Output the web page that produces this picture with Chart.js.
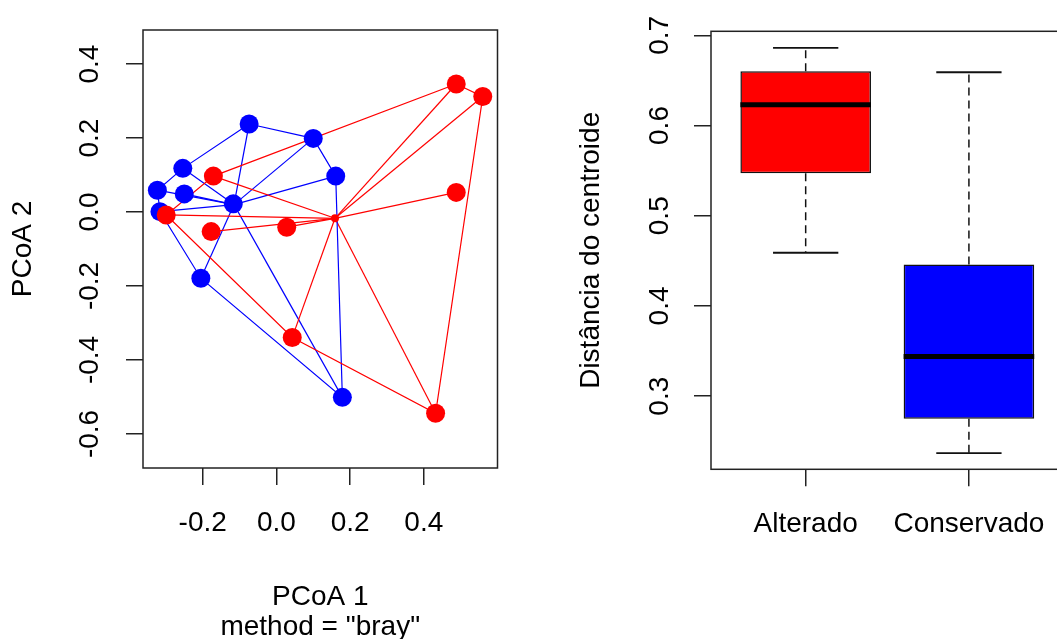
<!DOCTYPE html>
<html>
<head>
<meta charset="utf-8">
<script src="https://cdn.jsdelivr.net/npm/chart.js"></script>
<style>
  body { margin:0; background:#fff; overflow:hidden; width:1057px; height:639px; position:relative; }
  #left { position:absolute; left:0; top:0; }
  #right { position:absolute; left:530px; top:0; }
</style>
</head>
<body>
<canvas id="left" width="530" height="639"></canvas>
<canvas id="right" width="540" height="639"></canvas>
<script>
// PCoA scores, group Alterado (red)
var altX = [0.488, 0.560, 0.488, -0.171, -0.299, -0.177, 0.028, 0.043, 0.432];
var altY = [0.346, 0.312, 0.053, 0.097, -0.008, -0.053, -0.041, -0.339, -0.544];
var altHull = [0, 1, 8, 7, 4, 3];
var altCentroid = [0.159, -0.017];

// group Conservado (blue)
var conX = [-0.074, 0.100, 0.161, -0.254, -0.323, -0.250, -0.316, -0.205, 0.179, -0.117];
var conY = [0.238, 0.199, 0.097, 0.118, 0.059, 0.049, 0.001, -0.179, -0.501, 0.022];
var conHull = [0, 1, 2, 8, 7, 6, 4, 3];
var conCentroid = [-0.115, 0.020];

var pcoaXTicks = [-0.2, 0, 0.2, 0.4];
var pcoaYTicks = [-0.6, -0.4, -0.2, 0, 0.2, 0.4];

// distance to centroid boxplot
var groups = ['Alterado', 'Conservado'];
var boxMin = [0.459, 0.237];
var boxQ1 = [0.547, 0.275];
var boxMed = [0.623, 0.344];
var boxQ3 = [0.660, 0.446];
var boxMax = [0.686, 0.659];
var distTicks = [0.3, 0.4, 0.5, 0.6, 0.7];

var RED = '#ff0000', BLUE = '#0000ff';

Chart.defaults.font.family = "'Liberation Sans', Arial, sans-serif";
Chart.defaults.color = '#000';
Chart.defaults.animation = false;
Chart.defaults.plugins.legend.display = false;
Chart.defaults.plugins.tooltip.enabled = false;

var framePlugin = {
  id: 'frame',
  afterDraw: function(chart) {
    var a = chart.chartArea, c = chart.ctx;
    c.save();
    c.strokeStyle = '#222';
    c.lineWidth = 1.5;
    c.strokeRect(a.left, a.top, a.right - a.left, a.bottom - a.top);
    c.restore();
  }
};

function fixTicks(list) {
  return function(s) { s.ticks = list.map(function(v) { return {value: v}; }); };
}
function fmt1(v) { return Number(v).toFixed(1); }

// ---------- left: PCoA ----------
function pts(xs, ys) {
  return xs.map(function(x, i) { return {x: x, y: ys[i]}; });
}
var altPts = pts(altX, altY);
var conPts = pts(conX, conY);

var leftSets = [];
function lineSet(data, col) {
  leftSets.push({ data: data, showLine: true, borderColor: col, borderWidth: 1.2,
                  pointRadius: 0, pointHoverRadius: 0, order: 3 });
}
// hulls
lineSet(altHull.concat(altHull[0]).map(function(i) { return altPts[i]; }), RED);
lineSet(conHull.concat(conHull[0]).map(function(i) { return conPts[i]; }), BLUE);
// spider lines to centroids
altPts.forEach(function(p) { lineSet([{x: altCentroid[0], y: altCentroid[1]}, p], RED); });
conPts.forEach(function(p) { lineSet([{x: conCentroid[0], y: conCentroid[1]}, p], BLUE); });

leftSets.push({ data: conPts, pointRadius: 9.5, pointHoverRadius: 9.5, pointBackgroundColor: BLUE,
                pointBorderWidth: 0, order: 2 });
leftSets.push({ data: altPts, pointRadius: 9.5, pointHoverRadius: 9.5, pointBackgroundColor: RED,
                pointBorderWidth: 0, order: 1 });
leftSets.push({ data: [{x: altCentroid[0], y: altCentroid[1]}], pointRadius: 4, pointHoverRadius: 4,
                pointBackgroundColor: RED, pointBorderWidth: 0, order: 0 });
leftSets.push({ data: [{x: conCentroid[0], y: conCentroid[1]}], pointRadius: 4, pointHoverRadius: 4,
                pointBackgroundColor: BLUE, pointBorderWidth: 0, order: 0 });

new Chart(document.getElementById('left').getContext('2d'), {
  type: 'scatter',
  data: { datasets: leftSets },
  options: {
    responsive: false,
    layout: { padding: { top: 30, right: 32.5, left: 0, bottom: 0 } },
    scales: {
      x: {
        type: 'linear', min: -0.362, max: 0.600,
        afterBuildTicks: fixTicks(pcoaXTicks),
        afterFit: function(s) { s.height = 171; },
        grid: { drawOnChartArea: false, tickLength: 17, color: '#222', lineWidth: 1.5 },
        border: { display: false },
        ticks: { font: { size: 28 }, padding: 21, maxRotation: 0, autoSkip: false, callback: fmt1 },
        title: { display: true, text: ['PCoA 1', 'method = "bray"'],
                 font: { size: 28, lineHeight: 1.07 }, padding: { top: 0, bottom: -3 } }
      },
      y: {
        type: 'linear', min: -0.692, max: 0.492,
        afterBuildTicks: fixTicks(pcoaYTicks),
        afterFit: function(s) { s.width = 143; },
        grid: { drawOnChartArea: false, tickLength: 17, color: '#222', lineWidth: 1.5 },
        border: { display: false },
        ticks: { font: { size: 28 }, minRotation: 90, maxRotation: 90, crossAlign: 'center',
                 padding: 12, autoSkip: false, callback: fmt1 },
        title: { display: true, text: 'PCoA 2', font: { size: 28, lineHeight: 1.2 },
                 padding: { top: 6.5, bottom: 0 } }
      }
    }
  },
  plugins: [framePlugin]
});

// ---------- right: boxplot ----------
var rightSets = [];
rightSets.push({
  type: 'bar',
  data: groups.map(function(g, i) { return {x: i + 1, y: [boxQ1[i], boxQ3[i]]}; }),
  backgroundColor: [RED, BLUE],
  borderColor: '#111', borderWidth: 1.5, borderSkipped: false,
  barPercentage: 0.8, categoryPercentage: 1, order: 5
});
function boxLine(data, width, dash) {
  rightSets.push({ type: 'line', data: data, borderColor: '#111', borderWidth: width,
                   borderDash: dash || [], pointRadius: 0, pointHoverRadius: 0, fill: false, order: 1 });
}
groups.forEach(function(g, i) {
  var c = i + 1;
  boxLine([{x: c, y: boxQ3[i]}, {x: c, y: boxMax[i]}], 1.5, [8, 5]);
  boxLine([{x: c, y: boxQ1[i]}, {x: c, y: boxMin[i]}], 1.5, [8, 5]);
  boxLine([{x: c - 0.2, y: boxMax[i]}, {x: c + 0.2, y: boxMax[i]}], 1.8);
  boxLine([{x: c - 0.2, y: boxMin[i]}, {x: c + 0.2, y: boxMin[i]}], 1.8);
  rightSets.push({ type: 'line', data: [{x: c - 0.4, y: boxMed[i]}, {x: c + 0.4, y: boxMed[i]}],
                   borderColor: '#000', borderWidth: 5, pointRadius: 0, order: 0 });
});

new Chart(document.getElementById('right').getContext('2d'), {
  type: 'bar',
  data: { datasets: rightSets },
  options: {
    responsive: false,
    layout: { padding: { top: 28.3, right: 6.4, left: 0, bottom: 0 } },
    scales: {
      x: {
        type: 'linear', min: 0.42, max: 2.58, offset: false,
        afterBuildTicks: fixTicks([1, 2]),
        afterFit: function(s) { s.height = 169.7; },
        grid: { offset: false, drawOnChartArea: false, tickLength: 17, color: '#222', lineWidth: 1.5 },
        border: { display: false },
        ticks: { font: { size: 28 }, padding: 21, maxRotation: 0, autoSkip: false,
                 callback: function(v) { return groups[Math.round(v) - 1]; } }
      },
      y: {
        type: 'linear', min: 0.219, max: 0.7044, beginAtZero: false,
        afterBuildTicks: fixTicks(distTicks),
        afterFit: function(s) { s.width = 181; },
        grid: { drawOnChartArea: false, tickLength: 17, color: '#222', lineWidth: 1.5 },
        border: { display: false },
        ticks: { font: { size: 28 }, minRotation: 90, maxRotation: 90, crossAlign: 'center',
                 padding: 14.5, autoSkip: false, callback: fmt1 },
        title: { display: true, text: 'Distância do centroide', font: { size: 28, lineHeight: 1.2 },
                 padding: { top: 44.9, bottom: 0 } }
      }
    }
  },
  plugins: [framePlugin]
});
</script>
</body>
</html>
